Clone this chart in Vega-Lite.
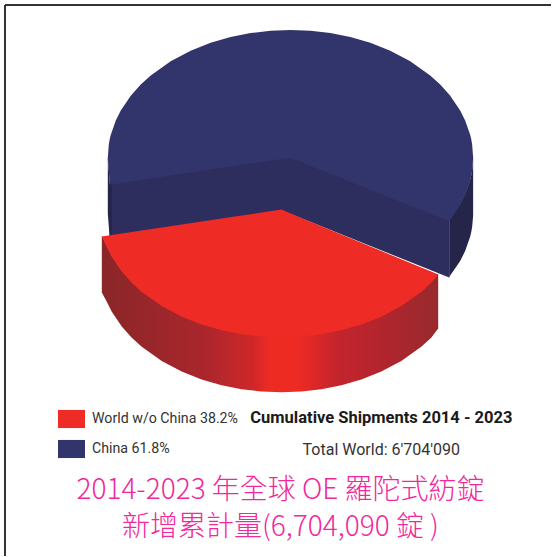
{"$schema":"https://vega.github.io/schema/vega-lite/v6.json","width":552,"height":557,"autosize":{"type":"fit","contains":"padding"},"padding":0,"background":"white","view":{"stroke":null},
"datasets":{
"blueFace":[{"x":110,"y":183.5,"y2":241},{"x":290,"y":156.5,"y2":214},{"x":450,"y":220.5,"y2":278}],
"blueWallLeft":[{"x":108,"y":157,"y2":214},{"x":109,"y":170,"y2":227},{"x":110,"y":184,"y2":241},{"x":112,"y":184,"y2":241}],
"blueWallRight":[{"x":450,"y":220.5,"y2":278},{"x":451,"y":219,"y2":276},{"x":461,"y":204.4,"y2":261.4},{"x":466,"y":194.4,"y2":251.4},{"x":471,"y":180.1,"y2":237.1},{"x":472,"y":175.9,"y2":232.9},{"x":473,"y":170.4,"y2":227.4},{"x":474,"y":157,"y2":216}],
"blueTop":[{"x":108,"y":158,"y2":158,"series":"China 61.8%"},{"x":109,"y":144.6,"y2":171.4,"series":"China 61.8%"},{"x":110,"y":139.1,"y2":185,"series":"China 61.8%"},{"x":111,"y":134.9,"y2":184.9,"series":"China 61.8%"},{"x":116,"y":120.6,"y2":184.1,"series":"China 61.8%"},{"x":121,"y":110.6,"y2":183.4,"series":"China 61.8%"},{"x":131,"y":95.9,"y2":181.9,"series":"China 61.8%"},{"x":141,"y":84.7,"y2":180.4,"series":"China 61.8%"},{"x":151,"y":75.6,"y2":178.9,"series":"China 61.8%"},{"x":171,"y":61.4,"y2":175.9,"series":"China 61.8%"},{"x":191,"y":50.8,"y2":172.9,"series":"China 61.8%"},{"x":211,"y":42.9,"y2":169.9,"series":"China 61.8%"},{"x":231,"y":37.1,"y2":166.9,"series":"China 61.8%"},{"x":251,"y":33.1,"y2":163.9,"series":"China 61.8%"},{"x":271,"y":30.8,"y2":160.9,"series":"China 61.8%"},{"x":291,"y":30,"y2":158,"series":"China 61.8%"},{"x":311,"y":30.8,"y2":166,"series":"China 61.8%"},{"x":331,"y":33.1,"y2":174,"series":"China 61.8%"},{"x":351,"y":37.1,"y2":182,"series":"China 61.8%"},{"x":371,"y":42.9,"y2":190,"series":"China 61.8%"},{"x":391,"y":50.8,"y2":198,"series":"China 61.8%"},{"x":411,"y":61.4,"y2":206,"series":"China 61.8%"},{"x":431,"y":75.6,"y2":214,"series":"China 61.8%"},{"x":441,"y":84.7,"y2":218,"series":"China 61.8%"},{"x":450,"y":94.6,"y2":222,"series":"China 61.8%"},{"x":451,"y":95.9,"y2":220.1,"series":"China 61.8%"},{"x":461,"y":110.6,"y2":205.4,"series":"China 61.8%"},{"x":466,"y":120.6,"y2":195.4,"series":"China 61.8%"},{"x":471,"y":134.9,"y2":181.1,"series":"China 61.8%"},{"x":472,"y":139.1,"y2":176.9,"series":"China 61.8%"},{"x":473,"y":144.6,"y2":171.4,"series":"China 61.8%"},{"x":474,"y":158,"y2":158,"series":"China 61.8%"}],
"redWall":[{"x":102,"y":236,"y2":293},{"x":107,"y":246.4,"y2":302.4},{"x":112,"y":256.4,"y2":312.4},{"x":122,"y":271.1,"y2":327.1},{"x":132,"y":282.3,"y2":338.3},{"x":142,"y":291.4,"y2":347.4},{"x":162,"y":305.6,"y2":361.6},{"x":182,"y":316.2,"y2":372.2},{"x":202,"y":324.1,"y2":380.1},{"x":222,"y":329.9,"y2":385.9},{"x":242,"y":333.9,"y2":389.9},{"x":262,"y":336.2,"y2":392.2},{"x":282,"y":337,"y2":393},{"x":302,"y":336.2,"y2":392.2},{"x":322,"y":333.9,"y2":389.9},{"x":342,"y":329.9,"y2":385.9},{"x":362,"y":324.1,"y2":380.1},{"x":382,"y":316.2,"y2":372.2},{"x":402,"y":305.6,"y2":361.6},{"x":422,"y":291.4,"y2":347.4},{"x":432,"y":282.3,"y2":338.3},{"x":439,"y":274,"y2":329}],
"redTop":[{"x":102,"y":237,"y2":237,"series":"World w/o China 38.2%"},{"x":107,"y":236.25,"y2":247.4,"series":"World w/o China 38.2%"},{"x":112,"y":235.5,"y2":257.4,"series":"World w/o China 38.2%"},{"x":122,"y":234,"y2":272.1,"series":"World w/o China 38.2%"},{"x":132,"y":232.5,"y2":283.3,"series":"World w/o China 38.2%"},{"x":142,"y":231,"y2":292.4,"series":"World w/o China 38.2%"},{"x":162,"y":228,"y2":306.6,"series":"World w/o China 38.2%"},{"x":182,"y":225,"y2":317.2,"series":"World w/o China 38.2%"},{"x":202,"y":222,"y2":325.1,"series":"World w/o China 38.2%"},{"x":222,"y":219,"y2":330.9,"series":"World w/o China 38.2%"},{"x":242,"y":216,"y2":334.9,"series":"World w/o China 38.2%"},{"x":262,"y":213,"y2":337.2,"series":"World w/o China 38.2%"},{"x":282,"y":210,"y2":338,"series":"World w/o China 38.2%"},{"x":302,"y":218.3,"y2":337.2,"series":"World w/o China 38.2%"},{"x":322,"y":226.6,"y2":334.9,"series":"World w/o China 38.2%"},{"x":342,"y":234.8,"y2":330.9,"series":"World w/o China 38.2%"},{"x":362,"y":243.1,"y2":325.1,"series":"World w/o China 38.2%"},{"x":382,"y":251.4,"y2":317.2,"series":"World w/o China 38.2%"},{"x":402,"y":259.7,"y2":306.6,"series":"World w/o China 38.2%"},{"x":422,"y":268,"y2":292.4,"series":"World w/o China 38.2%"},{"x":432,"y":272.1,"y2":283.3,"series":"World w/o China 38.2%"},{"x":439,"y":275,"y2":275,"series":"World w/o China 38.2%"}],
"frame":[{"x":5,"y":5,"x2":552,"y2":5},{"x":5,"y":5,"x2":5,"y2":557}],
"title":[{"x":382,"y":419,"label":"Cumulative Shipments 2014 - 2023"}],
"total":[{"x":382,"y":451,"label":"Total World: 6'704'090"}],
"cn":[{"x":281,"y":492,"label":"2014-2023 年全球 OE 羅陀式紡錠"},{"x":281,"y":529,"label":"新增累計量(6,704,090 錠 )"}]
},
"encoding":{
"x":{"field":"x","type":"quantitative","axis":null,"scale":{"domain":[0,552],"nice":false,"zero":false}},
"y":{"field":"y","type":"quantitative","axis":null,"scale":{"domain":[557,0],"nice":false,"zero":false}}
},
"layer":[
{"data":{"name":"frame"},"mark":{"type":"rule","color":"#333333","strokeWidth":2},"encoding":{"x2":{"field":"x2"},"y2":{"field":"y2"}}},
{"data":{"name":"blueFace"},"mark":{"type":"area","color":"#2e2e5e"},"encoding":{"y2":{"field":"y2"}}},
{"data":{"name":"blueWallLeft"},"mark":{"type":"area","color":"#25254a"},"encoding":{"y2":{"field":"y2"}}},
{"data":{"name":"blueWallRight"},"mark":{"type":"area","color":"#25254a"},"encoding":{"y2":{"field":"y2"}}},
{"data":{"name":"blueTop"},"mark":{"type":"area"},"encoding":{"y2":{"field":"y2"},"color":{"field":"series","type":"nominal","scale":{"domain":["World w/o China 38.2%","China 61.8%"],"range":["#ee2b24","#32356b"]},"legend":{"title":null,"orient":"none","legendX":58,"legendY":408,"symbolType":"M-1,-0.67H1V0.67H-1Z","symbolSize":729,"symbolStrokeWidth":0,"symbolOpacity":1,"labelFont":"Roboto","labelFontSize":14.2,"labelColor":"#333333","labelOffset":7,"labelLimit":220,"rowPadding":8,"clipHeight":22}}}},
{"data":{"name":"redWall"},"mark":{"type":"area","color":{"gradient":"linear","x1":0,"x2":1,"y1":0,"y2":0,"stops":[{"offset":0,"color":"#8a2629"},{"offset":0.3,"color":"#a9262c"},{"offset":0.45,"color":"#cf2729"},{"offset":0.5,"color":"#ee2b23"},{"offset":0.58,"color":"#ee2b23"},{"offset":0.7,"color":"#c4242c"},{"offset":0.85,"color":"#b0252d"},{"offset":1,"color":"#972a2e"}]}},"encoding":{"y2":{"field":"y2"}}},
{"data":{"name":"redTop"},"mark":{"type":"area"},"encoding":{"y2":{"field":"y2"},"color":{"field":"series","type":"nominal"}}},
{"data":{"name":"title"},"mark":{"type":"text","font":"Roboto","fontWeight":"bold","fontSize":16.5,"color":"#1a1a1a","align":"center","baseline":"middle"},"encoding":{"text":{"field":"label"}}},
{"data":{"name":"total"},"mark":{"type":"text","font":"Roboto","fontSize":16,"color":"#333333","align":"center","baseline":"middle"},"encoding":{"text":{"field":"label"}}},
{"data":{"name":"cn"},"mark":{"type":"text","font":"Noto Sans CJK TC","fontSize":28,"fontWeight":300,"color":"#f0289c","align":"center","baseline":"middle"},"encoding":{"text":{"field":"label"}}}
]}
